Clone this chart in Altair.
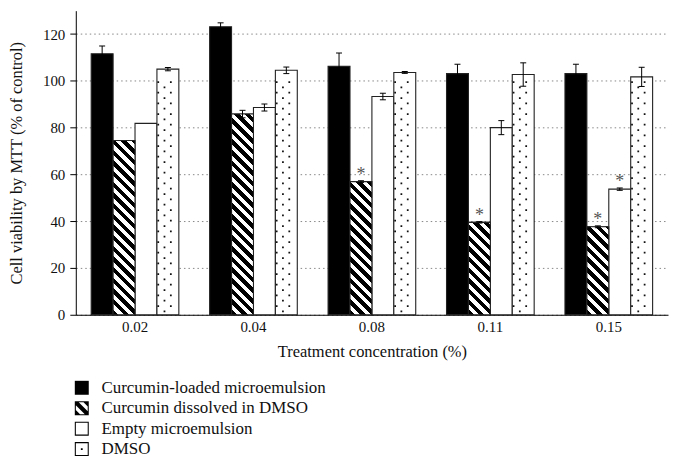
import altair as alt
import pandas as pd

# ---------------- data ----------------
CONC = ["0.02", "0.04", "0.08", "0.11", "0.15"]
SERIES = [
    "Curcumin-loaded microemulsion",
    "Curcumin dissolved in DMSO",
    "Empty microemulsion",
    "DMSO",
]
LOADED = [111.6, 123.1, 106.2, 103.1, 103.1]
LOADED_ERR = [3.3, 1.7, 5.7, 4.0, 4.0]
DISSOLVED = [74.5, 85.8, 56.9, 39.5, 37.6]
DISSOLVED_ERR = [0.0, 1.6, 0.4, 0.3, 0.4]
EMPTY = [81.8, 88.6, 93.3, 80.0, 53.7]
EMPTY_ERR = [0.0, 1.5, 1.4, 3.0, 0.5]
DMSO_V = [105.0, 104.5, 103.6, 102.7, 101.7]
DMSO_ERR = [0.7, 1.4, 0.4, 5.0, 4.1]
DISSOLVED_SIG = [False, False, True, True, True]
EMPTY_SIG = [False, False, False, False, True]
NO_SIG = [False] * 5

rows = []
for s, vals, errs, sig in zip(
    SERIES,
    [LOADED, DISSOLVED, EMPTY, DMSO_V],
    [LOADED_ERR, DISSOLVED_ERR, EMPTY_ERR, DMSO_ERR],
    [NO_SIG, DISSOLVED_SIG, EMPTY_SIG, NO_SIG],
):
    for c, v, e, g in zip(CONC, vals, errs, sig):
        rows.append(dict(conc=c, series=s, value=v, err=e, star=g))
df = pd.DataFrame(rows)
leg_df = pd.DataFrame({"series": SERIES})

# ---------------- layout / style ----------------
W, H, YMAX = 594, 305, 130
PAD_IN, PAD_OUT = 0.26, 0.13
FONT = "Liberation Serif"
step = W / (len(CONC) - PAD_IN + 2 * PAD_OUT)
BAR_W = step * (1 - PAD_IN) / len(SERIES)


def hatch(v):
    """Diagonal stripe fill ('\\' direction) as a hard-stop linear gradient."""
    h = v * H / YMAX
    w = BAR_W
    L = w + h
    k = L / (w * w + h * h)
    P, B = 10.7, 5.6
    stops = []
    a = 0.0
    while a < L:
        o1 = round(min(a / L, 1.0), 5)
        o2 = round(min((a + B) / L, 1.0), 5)
        stops += [
            {"offset": o1, "color": "white"},
            {"offset": o1, "color": "black"},
            {"offset": o2, "color": "black"},
            {"offset": o2, "color": "white"},
        ]
        a += P
    return {"gradient": "linear", "x1": 0, "y1": 1, "x2": k * w, "y2": 1 - k * h, "stops": stops}


def rect(x0, y0, x1, y1):
    return f"M{x0:.3f},{y0:.3f}L{x1:.3f},{y0:.3f}L{x1:.3f},{y1:.3f}L{x0:.3f},{y1:.3f}Z"


T = 0.15
FRAME = " ".join([
    rect(-1, -1, 1, -1 + T),
    rect(-1, 1 - T, 1, 1),
    rect(-1, -1, -1 + T, 1),
    rect(1 - T, -1, 1, 1),
])
SYM_SOLID = rect(-1, -1, 1, 1)
SYM_HATCH = (
    FRAME
    + " M-1,-1L-0.58,-1L1,0.58L1,1L0.58,1L-1,-0.58Z"
    + " M0.11,-1L1,-1L1,-0.11Z"
    + " M-1,0.11L-0.11,1L-1,1Z"
)
SYM_EMPTY = FRAME
SYM_DOT = FRAME + " " + rect(-0.13, -0.13, 0.13, 0.13)
SYMBOLS = [SYM_SOLID, SYM_HATCH, SYM_EMPTY, SYM_DOT]
R = 0.08
DOT_ROW = " ".join([
    rect(-0.88 - R, -0.243 - R, -0.88 + R, -0.243 + R),
    rect(0.27 - R, -0.243 - R, 0.27 + R, -0.243 + R),
    rect(-0.31 - R, 0.243 - R, -0.31 + R, 0.243 + R),
])

yscale = alt.Scale(domain=[0, YMAX], nice=False)
yaxis = alt.Axis(
    values=[0, 20, 40, 60, 80, 100, 120],
    title="Cell viability by MTT (% of control)",
    grid=True, gridDash=[1.5, 3], gridColor="#888", gridWidth=1,
    tickSize=6, tickColor="black", domainColor="black",
    labelPadding=5, titlePadding=18, labelFontSize=15, titleFontSize=16.5,
)


def Y(field):
    return alt.Y(f"{field}:Q", scale=yscale, axis=yaxis, title="Cell viability by MTT (% of control)")


X = alt.X(
    "conc:N", sort=CONC,
    scale=alt.Scale(domain=CONC, paddingInner=PAD_IN, paddingOuter=PAD_OUT),
    axis=alt.Axis(labelAngle=0, ticks=False, tickSize=0, domainColor="black", grid=False,
                  labelPadding=5, title="Treatment concentration (%)", titlePadding=9,
                  labelFontSize=15, titleFontSize=16.5),
)
XO = alt.XOffset("series:N", sort=SERIES, scale=alt.Scale(domain=SERIES, paddingInner=0, paddingOuter=0))

base = alt.Chart(df).encode(x=X, xOffset=XO)

bars = base.mark_bar(stroke="#222", strokeWidth=1.1).encode(
    y=Y("value"),
    fill=alt.Fill("series:N", scale=alt.Scale(domain=SERIES, range=["black", "white", "white", "white"]), legend=None),
)

hatched = [
    base.transform_filter(alt.datum.series == SERIES[1])
    .transform_filter(alt.datum.conc == c)
    .mark_bar(fill=hatch(v), stroke="#222", strokeWidth=1.1)
    .encode(y=Y("value"))
    for c, v in zip(CONC, DISSOLVED)
]

dots = (
    base.transform_filter(alt.datum.series == SERIES[3])
    .transform_calculate(k="sequence(0, ceil(datum.value / 4.56))")
    .transform_flatten(["k"])
    .transform_calculate(yy="datum.k * 4.56 + 2.6")
    .transform_filter("datum.yy < datum.value - 2.2")
    .mark_point(shape=DOT_ROW, size=484, filled=True, color="#111", opacity=1, strokeWidth=0)
    .encode(y=Y("yy"))
)

err_base = base.transform_filter("datum.err > 0").transform_calculate(
    lo="datum.value - datum.err", hi="datum.value + datum.err"
)
rules = err_base.mark_rule(color="black", strokeWidth=1, opacity=1).encode(y=Y("lo"), y2="hi:Q")
caps_hi = err_base.mark_tick(color="black", size=6, thickness=1, opacity=1).encode(y=Y("hi"))
caps_lo = err_base.mark_tick(color="black", size=6, thickness=1, opacity=1).encode(y=Y("lo"))

stars = (
    base.transform_filter("datum.star")
    .transform_calculate(hi="datum.value + datum.err")
    .mark_text(text="*", font=FONT, fontSize=18, color="#555", baseline="alphabetic", dy=-1)
    .encode(y=Y("hi"))
)

main = alt.layer(bars, *hatched, dots, rules, caps_hi, caps_lo, stars).properties(width=W, height=H)

# ---------------- legend (own small chart below) ----------------
LY = alt.Y("series:N", sort=SERIES, axis=None,
           scale=alt.Scale(domain=SERIES, paddingInner=0, paddingOuter=0))
leg_base = alt.Chart(leg_df)
swatches = [
    leg_base.transform_filter(alt.datum.series == s)
    .mark_point(shape=p, size=196, filled=True, color="black", opacity=1, strokeWidth=0)
    .encode(x=alt.value(6), y=LY)
    for s, p in zip(SERIES, SYMBOLS)
]
labels = leg_base.mark_text(align="left", baseline="middle", font=FONT, fontSize=17, color="#111").encode(
    x=alt.value(25.7), y=LY, text="series:N"
)
legend = alt.layer(*swatches, labels).properties(width=W, height=82)

chart = (
    alt.vconcat(main, legend, spacing=17)
    .properties(padding={"left": 0, "top": 2, "right": 5, "bottom": 0})
    .configure_view(stroke=None)
    .configure_axis(labelFont=FONT, titleFont=FONT, labelColor="#111", titleColor="#111",
                    titleFontWeight="normal")
)

chart.save("out.html", embed_options={"renderer": "svg", "actions": False})
